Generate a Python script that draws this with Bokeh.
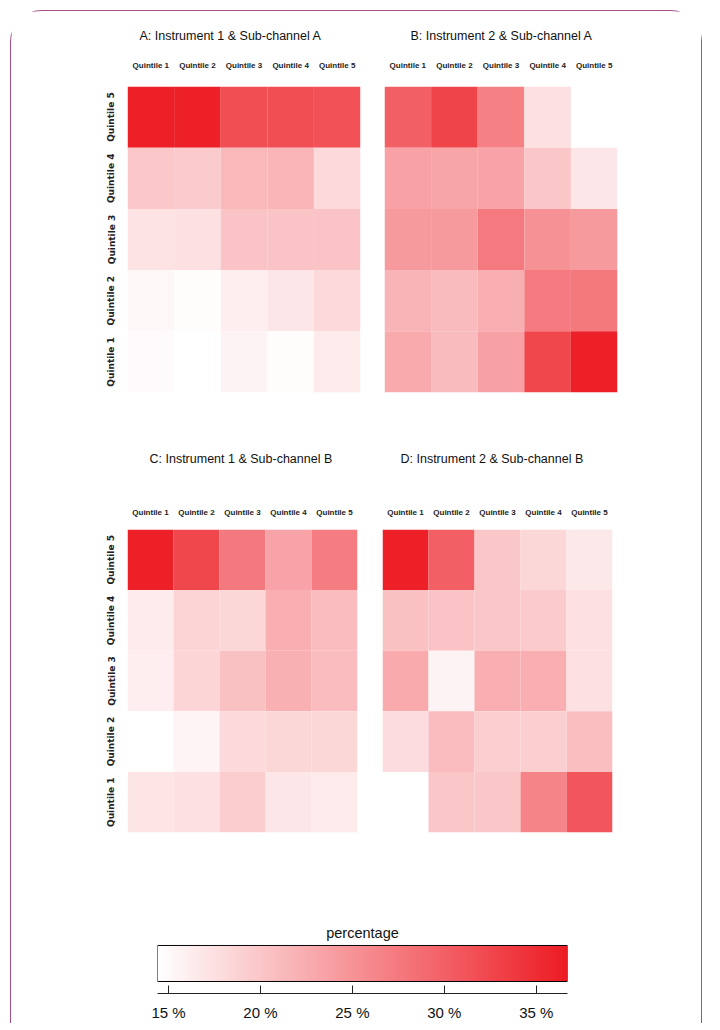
import math
import numpy as np
from bokeh.plotting import figure
from bokeh.layouts import column, row
from bokeh.models import (LinearColorMapper, FixedTicker, PrintfTickFormatter,
                          ColumnDataSource, Range1d)
from bokeh.transform import transform
from bokeh.embed import file_html
from bokeh.resources import INLINE

# ---------------- data ----------------
quintiles = ["Quintile 1", "Quintile 2", "Quintile 3", "Quintile 4", "Quintile 5"]
nan = float("nan")

# each panel: rows from Quintile 5 (top) down to Quintile 1 (bottom); columns Quintile 1..5
panel_a = [
    [36.3, 36.3, 31.8, 31.8, 31.5],
    [19.9, 19.6, 21.3, 21.7, 18.1],
    [17.2, 17.5, 20.3, 20.3, 20.3],
    [15.2, 14.7, 16.1, 16.9, 18.2],
    [14.8, 14.4, 15.6, 14.7, 16.5],
]
panel_b = [
    [30.0, 32.7, 26.8, 17.4, nan],
    [23.5, 23.2, 23.4, 20.0, 16.9],
    [24.3, 24.3, 27.4, 25.2, 24.3],
    [21.8, 21.1, 22.4, 27.3, 27.6],
    [22.7, 21.1, 23.7, 32.5, 36.3],
]
panel_c = [
    [36.3, 32.5, 27.5, 23.4, 27.2],
    [16.3, 18.6, 18.4, 22.4, 21.0],
    [16.1, 18.5, 20.5, 22.2, 21.0],
    [nan, 15.5, 18.1, 18.4, 18.4],
    [17.0, 17.4, 19.3, 16.9, 16.4],
]
panel_d = [
    [36.3, 30.0, 20.0, 18.4, 16.7],
    [20.5, 20.2, 20.0, 19.6, 17.4],
    [22.7, 15.6, 22.4, 22.4, 17.4],
    [17.8, 21.0, 19.2, 19.2, 20.8],
    [nan, 20.0, 20.0, 26.5, 31.1],
]
titles = ["A: Instrument 1 & Sub-channel A", "B:  Instrument 2 & Sub-channel A",
          "C: Instrument 1 & Sub-channel B", "D:  Instrument 2 & Sub-channel B"]
scale_low, scale_high = 14.4, 36.7
scale_ticks = [15, 20, 25, 30, 35]

# ---------------- colour scale ----------------
def interp_palette(c0, c1, n=256):
    out = []
    for i in range(n):
        t = i / (n - 1)
        r = round(c0[0] + (c1[0] - c0[0]) * t)
        g = round(c0[1] + (c1[1] - c0[1]) * t)
        b = round(c0[2] + (c1[2] - c0[2]) * t)
        out.append("#%02x%02x%02x" % (r, g, b))
    return out

palette = interp_palette((255, 255, 255), (237, 28, 36))
mapper = LinearColorMapper(palette=palette, low=scale_low, high=scale_high, nan_color="white")

SANS = "Liberation Sans"


def heatmap(title, grid, width, height, mb_left, mb_right, mb_top, mb_bottom,
            show_y, title_offset, title_standoff, label_standoff):
    xs, ys, vs = [], [], []
    for r, rowvals in enumerate(grid):
        for c, v in enumerate(rowvals):
            xs.append(quintiles[c])
            ys.append(quintiles[len(quintiles) - 1 - r])
            vs.append(v)
    src = ColumnDataSource(dict(x=xs, y=ys, v=np.array(vs, dtype=float)))
    p = figure(x_range=quintiles, y_range=quintiles, width=width, height=height,
               output_backend="svg", toolbar_location=None, x_axis_location="above",
               min_border_left=mb_left, min_border_right=mb_right,
               min_border_top=mb_top, min_border_bottom=mb_bottom,
               title=title)
    p.rect("x", "y", 1, 1, source=src, fill_color=transform("v", mapper),
           line_color=None)
    p.outline_line_color = None
    p.grid.visible = False
    p.background_fill_color = "white"
    p.border_fill_color = "white"

    p.title.text_font = SANS
    p.title.text_font_size = "12.5px"
    p.title.text_font_style = "normal"
    p.title.text_color = "#111111"
    p.title.align = "left"
    p.title.offset = title_offset
    p.title.standoff = title_standoff

    xa = p.xaxis[0]
    xa.axis_line_color = None
    xa.major_tick_line_color = None
    xa.minor_tick_line_color = None
    xa.major_label_standoff = label_standoff
    xa.major_label_text_font = SANS
    xa.major_label_text_font_style = "bold"
    xa.major_label_text_font_size = "8px"
    xa.major_label_text_color = "#222222"

    ya = p.yaxis[0]
    if show_y:
        ya.axis_line_color = None
        ya.major_tick_line_color = None
        ya.minor_tick_line_color = None
        ya.major_label_orientation = "parallel"
        ya.major_label_standoff = 5
        ya.major_label_text_font = "DejaVu Sans"
        ya.major_label_text_font_style = "bold"
        ya.major_label_text_font_size = "9px"
        ya.major_label_text_color = "#222222"
    else:
        ya.visible = False
    return p


pa = heatmap(titles[0], panel_a, 358, 399, 116, 9, 75, 18, True, 12, 29, 11)
pb = heatmap(titles[1], panel_b, 332, 399, 15, 84, 75, 18, False, 26, 29, 11)
pc = heatmap(titles[2], panel_c, 358, 459, 116, 12, 119, 37, True, 22, 78, 7)
pd = heatmap(titles[3], panel_d, 332, 459, 13, 89, 119, 37, False, 18, 78, 7)

# ---------------- colour bar ----------------
pcb = figure(width=690, height=154, output_backend="svg", toolbar_location=None,
             x_range=Range1d(scale_low, scale_high), y_range=Range1d(0, 1.02),
             min_border_left=146, min_border_right=134, min_border_top=75,
             min_border_bottom=27, title="percentage")
grad = np.linspace(scale_low, scale_high, 400).reshape(1, -1)
pcb.image(image=[grad], x=scale_low, y=0.25, dw=scale_high - scale_low, dh=0.75,
          color_mapper=mapper)
pcb.quad(left=[scale_low], right=[scale_high], bottom=[0.25], top=[1.0],
         fill_color=None, line_color="black", line_width=1)
pcb.outline_line_color = None
pcb.grid.visible = False
pcb.yaxis.visible = False
pcb.title.text_font = SANS
pcb.title.text_font_size = "14.5px"
pcb.title.text_font_style = "normal"
pcb.title.text_color = "#111111"
pcb.title.align = "center"
pcb.title.standoff = 8
xb = pcb.xaxis[0]
xb.ticker = FixedTicker(ticks=scale_ticks)
xb.formatter = PrintfTickFormatter(format="%d %%")
xb.major_tick_in = 8
xb.major_tick_out = 0
xb.minor_tick_line_color = None
xb.axis_line_color = "#222222"
xb.major_tick_line_color = "#222222"
xb.major_label_standoff = 10
xb.major_label_text_font = SANS
xb.major_label_text_font_size = "15px"
xb.major_label_text_color = "#111111"

layout = column(
    row(pa, pb),
    row(pc, pd),
    pcb,
    styles={
        "border": "1.5px solid #a54f86",
        "border-bottom": "none",
        "border-radius": "32px 32px 0 0",
        "background-color": "white",
        "margin-left": "10px",
        "margin-right": "8px",
        "margin-top": "10px",
    },
)

open("out.html", "w").write(file_html(layout, INLINE))
